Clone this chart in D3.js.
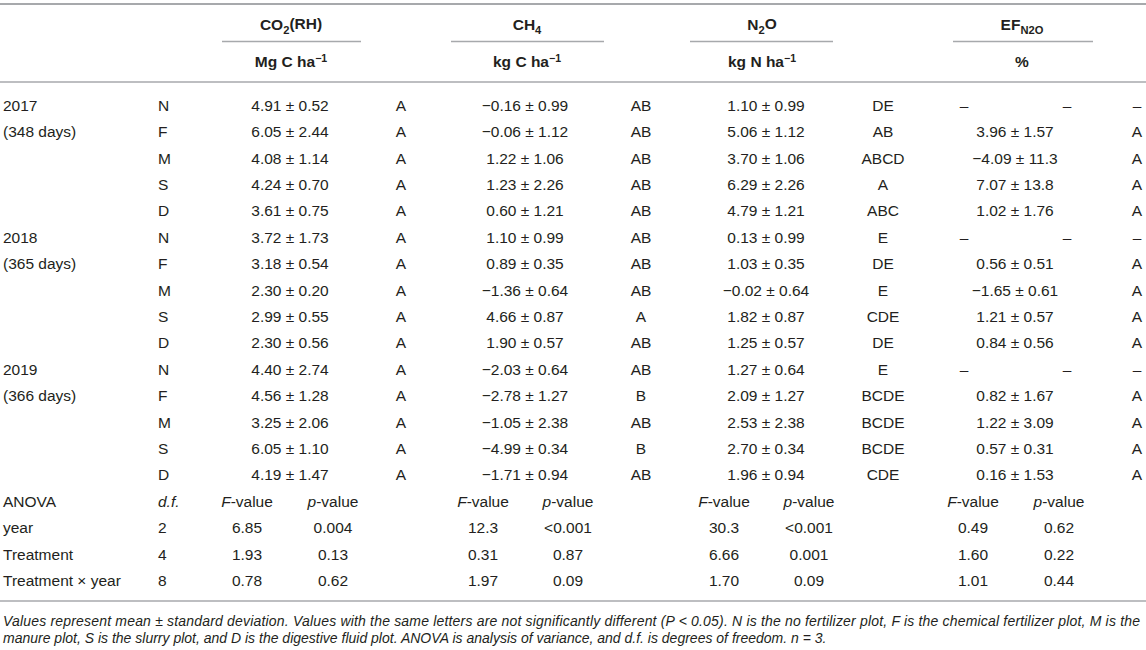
<!DOCTYPE html>
<html><head><meta charset="utf-8">
<script src="https://cdn.jsdelivr.net/npm/d3@7"></script>
<style>
html,body{margin:0;padding:0;background:#fff;}
svg text{font-family:"Liberation Sans",Arial,Helvetica,sans-serif;fill:#231f20;}
</style></head>
<body>
<svg id="t" width="1146" height="650"></svg>
<script>
// ---- data ----
const years = ["2017", "2018", "2019"];
const yearDays = ["(348 days)", "(365 days)", "(366 days)"];
const treatments = ["N", "F", "M", "S", "D"];

const co2Mean = [4.91, 6.05, 4.08, 4.24, 3.61, 3.72, 3.18, 2.30, 2.99, 2.30, 4.40, 4.56, 3.25, 6.05, 4.19];
const co2SD   = [0.52, 2.44, 1.14, 0.70, 0.75, 1.73, 0.54, 0.20, 0.55, 0.56, 2.74, 1.28, 2.06, 1.10, 1.47];
const co2Letter = ["A","A","A","A","A","A","A","A","A","A","A","A","A","A","A"];

const ch4Mean = [-0.16, -0.06, 1.22, 1.23, 0.60, 1.10, 0.89, -1.36, 4.66, 1.90, -2.03, -2.78, -1.05, -4.99, -1.71];
const ch4SD   = [0.99, 1.12, 1.06, 2.26, 1.21, 0.99, 0.35, 0.64, 0.87, 0.57, 0.64, 1.27, 2.38, 0.34, 0.94];
const ch4Letter = ["AB","AB","AB","AB","AB","AB","AB","AB","A","AB","AB","B","AB","B","AB"];

const n2oMean = [1.10, 5.06, 3.70, 6.29, 4.79, 0.13, 1.03, -0.02, 1.82, 1.25, 1.27, 2.09, 2.53, 2.70, 1.96];
const n2oSD   = [0.99, 1.12, 1.06, 2.26, 1.21, 0.99, 0.35, 0.64, 0.87, 0.57, 0.64, 1.27, 2.38, 0.34, 0.94];
const n2oLetter = ["DE","AB","ABCD","A","ABC","E","DE","E","CDE","DE","E","BCDE","BCDE","BCDE","CDE"];

const efMean = [null, 3.96, -4.09, 7.07, 1.02, null, 0.56, -1.65, 1.21, 0.84, null, 0.82, 1.22, 0.57, 0.16];
const efSD   = [null, 1.57, 11.3, 13.8, 1.76, null, 0.51, 0.61, 0.57, 0.56, null, 1.67, 3.09, 0.31, 1.53];
const efLetter = [null,"A","A","A","A",null,"A","A","A","A",null,"A","A","A","A"];

const anovaTerms = ["year", "Treatment", "Treatment × year"];
const anovaDf = ["2", "4", "8"];
const co2F = ["6.85", "1.93", "0.78"];  const co2P = ["0.004", "0.13", "0.62"];
const ch4F = ["12.3", "0.31", "1.97"];  const ch4P = ["<0.001", "0.87", "0.09"];
const n2oF = ["30.3", "6.66", "1.70"];  const n2oP = ["<0.001", "0.001", "0.09"];
const efF  = ["0.49", "1.60", "1.01"];  const efP  = ["0.62", "0.22", "0.44"];

const footLines = [
  "Values represent mean ± standard deviation. Values with the same letters are not significantly different (P < 0.05). N is the no fertilizer plot, F is the chemical fertilizer plot, M is the",
  "manure plot, S is the slurry plot, and D is the digestive fluid plot. ANOVA is analysis of variance, and d.f. is degrees of freedom. n = 3."
];

// ---- layout ----
const W = 1146;
const svg = d3.select("#t");
const FS = 15.5;
const lineColor = "#a7a9ac";

// row keys: 15 data rows + ANOVA header + 3 ANOVA rows
const rowKeys = d3.range(19);
const y = d3.scalePoint().domain(rowKeys).range([105.5, 580.5]);

// column blocks
const blocks = [
  {name:"co2", val:290, F:247, p:333, let:401, head:291, dash:[247,333], line:[222,361], mean:co2Mean, sd:co2SD, letter:co2Letter, Fv:co2F, Pv:co2P},
  {name:"ch4", val:525, F:483, p:568, let:641, head:527, dash:[483,568], line:[451,604], mean:ch4Mean, sd:ch4SD, letter:ch4Letter, Fv:ch4F, Pv:ch4P},
  {name:"n2o", val:766, F:724, p:809, let:883, head:762, dash:[724,809], line:[690,833], mean:n2oMean, sd:n2oSD, letter:n2oLetter, Fv:n2oF, Pv:n2oP},
  {name:"ef",  val:1015, F:973, p:1059, let:1137, head:1022, dash:[964,1067], line:[953,1093], mean:efMean, sd:efSD, letter:efLetter, Fv:efF, Pv:efP}
];

const fmt2 = d3.format(".2f"), fmt1 = d3.format(".1f");
const fmt = v => Math.abs(v) >= 10 ? fmt1(v) : fmt2(v);

function hline(y0, x0, x1, w) {
  svg.append("line").attr("x1", x0).attr("x2", x1).attr("y1", y0).attr("y2", y0)
    .attr("stroke", lineColor).attr("stroke-width", w || 1.5);
}
function txt(x, yy, s, anchor, opts) {
  const t = svg.append("text").attr("x", x).attr("y", yy).attr("dy", "0.35em")
    .attr("text-anchor", anchor || "middle").attr("font-size", FS);
  if (opts && opts.bold) t.attr("font-weight", "bold");
  if (opts && opts.italic) t.attr("font-style", "italic");
  if (s !== null) t.text(s);
  return t;
}

// rules
hline(4, 0, W, 2);
hline(82, 0, W, 1.5);
hline(601, 0, W, 1.5);
blocks.forEach(b => hline(41.5, b.line[0], b.line[1], 1.5));

// header row 1
const h1y = 25, h2y = 62;
const headParts = {
  co2: [["CO",0],["2",1],["(RH)",0]],
  ch4: [["CH",0],["4",1]],
  n2o: [["N",0],["2",1],["O",0]],
  ef:  [["EF",0],["N2O",1]]
};
blocks.forEach(b => {
  const t = txt(b.head, h1y, null, "middle", {bold:true});
  headParts[b.name].forEach(([s, sub]) => {
    const ts = t.append("tspan").text(s);
    if (sub) ts.attr("font-size", FS * 0.72).attr("dy", "0.3em");
    else ts.attr("dy", t.selectAll("tspan").size() > 1 ? "-0.3em" : null);
  });
});
// header row 2 (units)
const unitParts = {co2:"Mg C ha", ch4:"kg C ha", n2o:"kg N ha", ef:"%"};
blocks.forEach(b => {
  const t = txt(b.head, h2y, null, "middle", {bold:true});
  t.append("tspan").text(unitParts[b.name]);
  if (b.name !== "ef") t.append("tspan").text("−1").attr("font-size", FS * 0.68).attr("dy", "-0.5em");
});

// data rows
d3.range(15).forEach(i => {
  const yy = y(i);
  const yi = Math.floor(i / 5), ti = i % 5;
  if (ti === 0) txt(3, yy, years[yi], "start");
  if (ti === 1) txt(3, yy, yearDays[yi], "start");
  txt(158, yy, treatments[ti], "start");
  blocks.forEach(b => {
    if (b.mean[i] === null) {
      txt(b.dash[0], yy, "–"); txt(b.dash[1], yy, "–"); txt(b.let, yy, "–");
    } else {
      txt(b.val, yy, fmt(b.mean[i]) + " ± " + fmt(b.sd[i]));
      txt(b.let, yy, b.letter[i]);
    }
  });
});

// ANOVA header row
const ya = y(15);
txt(3, ya, "ANOVA", "start");
txt(158, ya, "d.f.", "start", {italic:true});
blocks.forEach(b => {
  const tf = txt(b.F, ya, null);
  tf.append("tspan").text("F").attr("font-style", "italic");
  tf.append("tspan").text("-value");
  const tp = txt(b.p, ya, null);
  tp.append("tspan").text("p").attr("font-style", "italic");
  tp.append("tspan").text("-value");
});
anovaTerms.forEach((term, j) => {
  const yy = y(16 + j);
  txt(3, yy, term, "start");
  txt(158, yy, anovaDf[j], "start");
  blocks.forEach(b => {
    txt(b.F, yy, b.Fv[j]);
    txt(b.p, yy, b.Pv[j]);
  });
});

// footnote
footLines.forEach((s, k) => {
  const t = svg.append("text").attr("x", 3).attr("y", 621 + k * 17.5).attr("dy", "0.35em")
    .attr("font-size", 14).attr("font-style", "italic").text(s);
  if (k === 0) t.attr("textLength", 1137).attr("lengthAdjust", "spacing");
});
</script>
</body></html>
